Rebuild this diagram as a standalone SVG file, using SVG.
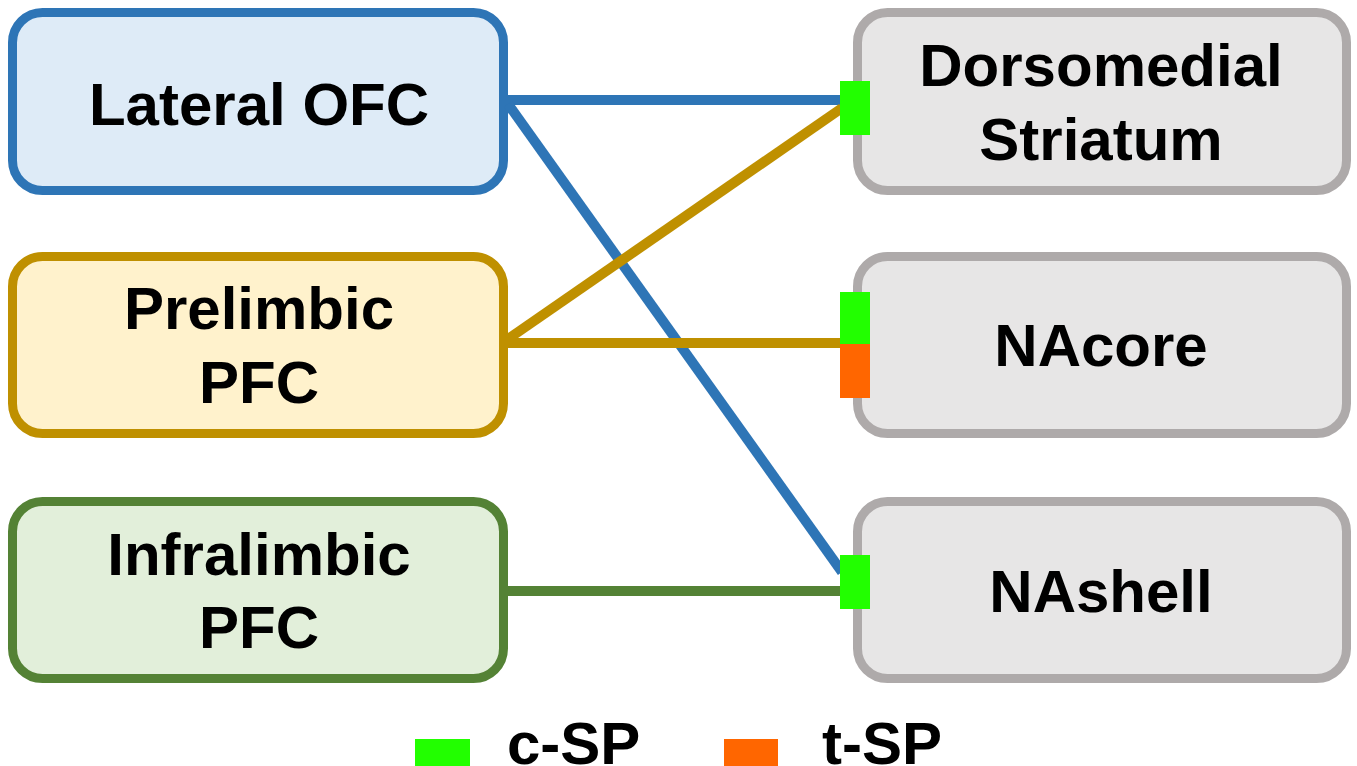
<svg xmlns="http://www.w3.org/2000/svg" width="1357" height="766" viewBox="0 0 1357 766">
<style>
.box{stroke-width:9}
.lbl{font-family:"Liberation Sans",Arial,sans-serif;font-weight:bold;font-size:60px;fill:#000;text-anchor:middle}
.ln{stroke-width:10;fill:none;stroke-linecap:butt}
.csp{fill:#22ff00}
.tsp{fill:#ff6600}
</style>
<rect width="1357" height="766" fill="#ffffff"/>
<g id="lateral-ofc">
<rect class="box" x="12.5" y="12.5" width="491" height="178" rx="30" fill="#deebf7" stroke="#2e75b6"/>
<text class="lbl" x="259" y="125">Lateral OFC</text>
</g>
<g id="prelimbic-pfc">
<rect class="box" x="12.5" y="256.5" width="491" height="177" rx="30" fill="#fff2cc" stroke="#bf9000"/>
<text class="lbl" x="259" y="329">Prelimbic</text>
<text class="lbl" x="259" y="403">PFC</text>
</g>
<g id="infralimbic-pfc">
<rect class="box" x="12.5" y="501.5" width="491" height="177" rx="30" fill="#e2efda" stroke="#548235"/>
<text class="lbl" x="259" y="575">Infralimbic</text>
<text class="lbl" x="259" y="648">PFC</text>
</g>
<g id="dorsomedial-striatum">
<rect class="box" x="857.5" y="12.5" width="489" height="178" rx="30" fill="#e7e6e6" stroke="#aeaaaa"/>
<text class="lbl" x="1101" y="86">Dorsomedial</text>
<text class="lbl" x="1101" y="160">Striatum</text>
</g>
<g id="nacore">
<rect class="box" x="857.5" y="256.5" width="489" height="177" rx="30" fill="#e7e6e6" stroke="#aeaaaa"/>
<text class="lbl" x="1101" y="366">NAcore</text>
</g>
<g id="nashell">
<rect class="box" x="857.5" y="501.5" width="489" height="177" rx="30" fill="#e7e6e6" stroke="#aeaaaa"/>
<text class="lbl" x="1101" y="612">NAshell</text>
</g>
<g id="connectors">
<line class="ln" x1="508" y1="100" x2="840" y2="100" stroke="#2e75b6"/>
<line class="ln" x1="508" y1="104" x2="842" y2="572" stroke="#2e75b6"/>
<line class="ln" x1="508" y1="339" x2="842" y2="108" stroke="#bf9000"/>
<line class="ln" x1="508" y1="343" x2="840" y2="343" stroke="#bf9000"/>
<line class="ln" x1="508" y1="591" x2="840" y2="591" stroke="#548235"/>
<rect class="csp" x="840" y="81" width="30" height="54"/>
<rect class="csp" x="840" y="292" width="30" height="52"/>
<rect class="tsp" x="840" y="344" width="30" height="54"/>
<rect class="csp" x="840" y="555" width="30" height="54"/>
</g>
<g id="legend">
<rect class="csp" x="415" y="739" width="55" height="30"/>
<text class="lbl" x="507" y="764" style="text-anchor:start">c-SP</text>
<rect class="tsp" x="724" y="739" width="54" height="30"/>
<text class="lbl" x="822" y="764" style="text-anchor:start">t-SP</text>
</g>
</svg>
